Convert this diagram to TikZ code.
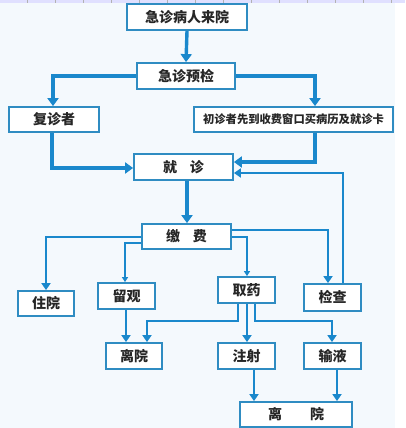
\documentclass[tikz,border=0pt]{standalone}
\usepackage{fontspec}
\newfontfamily\cjk{Noto Sans CJK SC}
\usetikzlibrary{arrows.meta}
\definecolor{ln}{HTML}{1A88CC}
\definecolor{bx}{HTML}{2F8CC2}
\definecolor{bg}{HTML}{F4F9FD}
\definecolor{tx}{HTML}{262626}
\tikzset{
  box/.style={draw=bx, line width=1.8pt, fill=white, inner sep=0pt, text=tx,
    font=\cjk\bfseries\fontsize{14}{16}\selectfont},
  mainln/.style={draw=ln, line width=3.4pt, -{Triangle[width=11pt,length=8pt]}},
  medln/.style={draw=ln, line width=2.6pt, -{Triangle[width=9pt,length=7pt]}},
  thinln/.style={draw=ln, line width=1.6pt, -{Triangle[width=6pt,length=5pt]}},
  plainln/.style={draw=ln, line width=2.2pt}
}
\begin{document}
\begin{tikzpicture}[x=1pt,y=-1pt]
\useasboundingbox (0,0) rectangle (405,428);
\fill[bg] (0,0) rectangle (395,428);
\fill[white] (395,0) rectangle (405,428);
\fill[blue!12] (0,0) rectangle (405,3);
\foreach \t in {27,55,83,111,139,167,195,223,251,279,307,335,363,391}
  \draw[gray!60, line width=0.6pt] (\t,0) -- (\t,3);

\node[box, minimum width=120pt, minimum height=26pt] (a) at (187,17) {急诊病人来院};
\node[box, minimum width=98pt, minimum height=26pt] (b) at (186,76) {急诊预检};
\node[box, minimum width=90pt, minimum height=25pt] (c) at (54,119.5) {复诊者};
\node[box, minimum width=199pt, minimum height=25pt, font=\cjk\bfseries\fontsize{11.3}{13}\selectfont] (d) at (293.5,119.5) {初诊者先到收费窗口买病历及就诊卡};
\node[box, minimum width=99pt, minimum height=26pt] (e) at (183.5,167) {就\hspace{0.9em}诊};
\node[box, minimum width=89pt, minimum height=25pt] (f) at (186.5,236.5) {缴\hspace{0.9em}费};
\node[box, minimum width=56pt, minimum height=25pt] (g) at (46,303.5) {住院};
\node[box, minimum width=57pt, minimum height=26pt] (h) at (126.5,296) {留观};
\node[box, minimum width=57pt, minimum height=26pt] (i) at (246.5,290) {取药};
\node[box, minimum width=57pt, minimum height=27pt] (j) at (332.5,297.5) {检查};
\node[box, minimum width=56pt, minimum height=26pt] (k) at (134,356) {离院};
\node[box, minimum width=57pt, minimum height=26pt] (l) at (246.5,356) {注射};
\node[box, minimum width=57pt, minimum height=26pt] (m) at (332.5,356) {输液};
\node[box, minimum width=112pt, minimum height=25pt] (n) at (296,414.5) {离\hspace{2em}院};

\coordinate (p1) at (53,76);
\coordinate (p2) at (315,76);
\coordinate (p3) at (52,168);
\coordinate (p4) at (315,162);
\coordinate (p5) at (343,173);
\coordinate (p6) at (46,237);
\coordinate (p7) at (125,243);
\coordinate (p8) at (247,237);
\coordinate (p9) at (328,230);
\coordinate (q1) at (238,321);
\coordinate (q2) at (147,321);
\coordinate (q3) at (255,321);
\coordinate (q4) at (332,321);

\draw[mainln] (a.south) -- (b.north);
\draw[mainln] (b.west) -- (p1) -- (p1 |- c.north);
\draw[mainln] (b.east) -- (p2) -- (p2 |- d.north);
\draw[mainln] (c.south -| p3) -- (p3) -- (p3 -| e.west);
\draw[mainln] (d.south -| p4) -- (p4) -- (p4 -| e.east);
\draw[medln] (j.north -| p5) -- (p5) -- (p5 -| e.east);
\draw[mainln] (e.south -| 187,0) -- (f.north -| 187,0);
\draw[medln] (f.west |- p6) -- (p6) -- (g.north);
\draw[thinln] (f.west |- p7) -- (p7) -- (p7 |- h.north);
\draw[thinln] (f.east |- p8) -- (p8) -- (p8 |- i.north);
\draw[medln] (f.east |- p9) -- (p9) -- (p9 |- j.north);
\draw[medln] (i.south -| q1) -- (q1) -- (q2) -- (q2 |- k.north);
\draw[medln] (i.south -| 247,0) -- (l.north -| 247,0);
\draw[medln] (i.south -| q3) -- (q3) -- (q4) -- (q4 |- m.north);
\draw[medln] (h.south -| 126,0) -- (k.north -| 126,0);
\draw[medln] (l.south -| 254,0) -- (n.north -| 254,0);
\draw[medln] (m.south -| 337,0) -- (n.north -| 337,0);
\end{tikzpicture}
\end{document}
